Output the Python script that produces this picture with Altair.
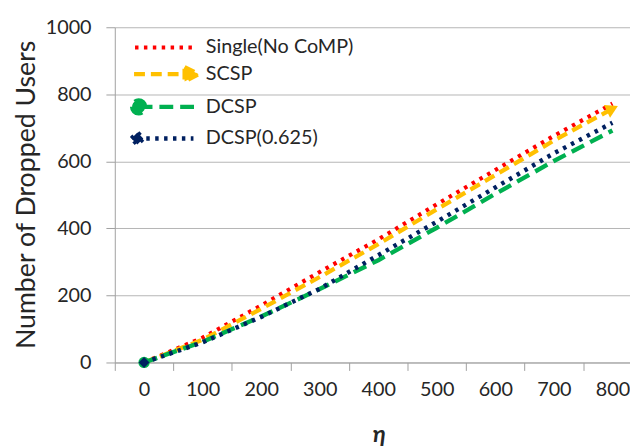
import altair as alt
import pandas as pd

# ---- data ----
eta = [0, 100, 200, 300, 400, 500, 600, 700, 800]
single = [0, 74, 170, 270, 367, 472, 574, 676, 772]
scsp = [0, 68, 160, 255, 353, 457, 559, 662, 757]
dcsp = [0, 62, 137, 219, 305, 402, 503, 601, 692]
dcsp625 = [0, 60, 136, 220, 320, 420, 522, 624, 715]

names = ["Single(No CoMP)", "SCSP", "DCSP", "DCSP(0.625)"]
series_values = [single, scsp, dcsp, dcsp625]
x_ticks = [0, 100, 200, 300, 400, 500, 600, 700, 800]
y_ticks = [0, 200, 400, 600, 800, 1000]

# ---- styles ----
colors = ["#ff0000", "#ffc000", "#00b050", "#002060"]
dashes = [[3.5, 5.5], [11, 6], [14, 7], [3.5, 5.5]]
widths = [4.2, 4.5, 5, 4.2]
FONT = "Lato"
TXT = "#262626"
GRID = "#b5b5b5"
AX = "#a0a0a0"

rows = []
for name, vals in zip(names, series_values):
    for e, v in zip(eta, vals):
        rows.append({"eta": e, "value": v, "series": name})
df = pd.DataFrame(rows)

color_of = dict(zip(names, colors))
markers = pd.DataFrame([
    {"eta": eta[0], "value": dcsp[0], "shape": "circle",
     "angle": 0, "fill": color_of["DCSP"], "size": 130},
    {"eta": eta[0], "value": dcsp625[0], "shape": "diamond",
     "angle": 0, "fill": color_of["DCSP(0.625)"], "size": 120},
    {"eta": eta[-1], "value": scsp[-1], "shape": "triangle-right",
     "angle": 334, "fill": color_of["SCSP"], "size": 200},
])

# legend glyphs (unit = half the symbol box)
legend_paths = {
    "Single(No CoMP)": "M-3.36,0L0.93,0",
    "SCSP": "M-3.43,0L0.14,0M0.22,-0.52L1.24,0L0.22,0.52Z",
    "DCSP": "M-3.57,0A0.47,0.47,0,1,0,-2.63,0A0.47,0.47,0,1,0,-3.57,0ZM-3.1,0L1.34,0",
    "DCSP(0.625)": "M-3.62,0L-3.19,-0.43L-2.76,0L-3.19,0.43ZM-3.19,0L0.86,0",
}


def by_series(mapping):
    items = list(mapping.items())
    expr = f"'{items[-1][1]}'"
    for k, v in reversed(items[:-1]):
        expr = f"datum.value === '{k}' ? '{v}' : ({expr})"
    return expr


legend = alt.Legend(
    title=None, orient="none", legendX=51, legendY=4, padding=0,
    symbolSize=784, symbolStrokeWidth=4, labelFont=FONT, labelFontSize=20,
    labelColor=TXT, labelOffset=8, rowPadding=0,
    symbolType={"expr": by_series(legend_paths)},
    symbolFillColor={"expr": "scale('color', datum.value)"},
)

x_enc = alt.X(
    "eta:Q", title="η",
    scale=alt.Scale(domain=[-50, 830], nice=False, zero=False),
    axis=alt.Axis(values=x_ticks, grid=False, tickOffset=-29.6, labelOffset=29.6,
                  tickSize=8, labelPadding=9, labelFontSize=20, labelFont=FONT,
                  labelColor=TXT, domainColor=AX, tickColor=AX,
                  titleFont=FONT, titleFontSize=24, titleFontStyle="italic",
                  titleFontWeight="bold", titleColor=TXT, titleX=267, titleY=80,
                  titleBaseline="alphabetic", titleAlign="center"),
)
y_enc = alt.Y(
    "value:Q", title="Number of Dropped Users",
    scale=alt.Scale(domain=[0, 1000], nice=False),
    axis=alt.Axis(values=y_ticks, format="d", grid=True, gridColor=GRID, domainColor=AX,
                  tickColor=AX, tickSize=9, labelPadding=15, labelFontSize=20,
                  labelFont=FONT, labelColor=TXT, titleFont=FONT, titleFontSize=27,
                  titleFontWeight="normal", titleColor=TXT, titleX=-81, titleY=169,
                  titleAngle=270, titleBaseline="alphabetic", titleAlign="center"),
)

lines = alt.Chart(df).mark_line(strokeCap="butt", strokeJoin="round").encode(
    x=x_enc,
    y=y_enc,
    color=alt.Color("series:N", scale=alt.Scale(domain=names, range=colors), legend=legend),
    strokeDash=alt.StrokeDash("series:N", scale=alt.Scale(domain=names, range=dashes), legend=None),
    strokeWidth=alt.StrokeWidth("series:N", scale=alt.Scale(domain=names, range=widths), legend=None),
)

points = alt.Chart(markers).mark_point(filled=True, opacity=1).encode(
    x="eta:Q",
    y="value:Q",
    shape=alt.Shape("shape:N", scale=None),
    fill=alt.Fill("fill:N", scale=None),
    angle=alt.Angle("angle:Q", scale=None),
    size=alt.Size("size:Q", scale=None),
)

chart = alt.layer(lines, points).properties(
    width=521, height=339,
    autosize=alt.AutoSizeParams(type="none"),
    padding={"left": 108, "top": 17, "right": 0, "bottom": 84},
).configure_view(stroke=None)

chart.save("out.html", embed_options={"renderer": "svg", "actions": False})
